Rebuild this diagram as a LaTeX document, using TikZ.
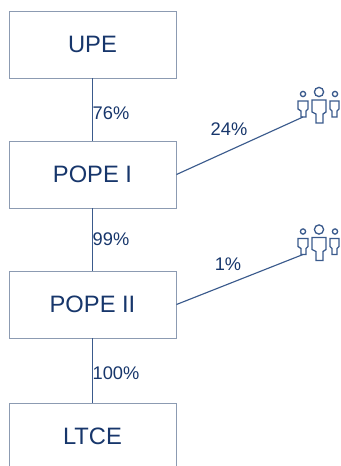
\documentclass[tikz,border=0pt]{standalone}
\usepackage{fontspec}
\setmainfont{Liberation Sans}
\definecolor{navy}{HTML}{17366B}
\definecolor{linkblue}{HTML}{3A5A8C}
\definecolor{boxgrey}{HTML}{8C9BB2}
\tikzset{
  company/.style={draw=boxgrey, fill=white, line width=0.55pt, minimum width=167*0.02cm, minimum height=67*0.02cm, inner sep=0pt, text=navy, font=\fontsize{13.5}{16}\selectfont},
  share/.style={text=navy, inner sep=0pt, font=\fontsize{10.4}{12}\selectfont},
  link/.style={draw=linkblue, line width=0.65pt},
  figure/.style={draw=linkblue, line width=0.75pt, fill=white},
  people/.pic={
    \draw[figure] (5,-23) circle (2.6);
    \draw[figure] (0,-16) -- (10,-16) -- (10,-8) -- (8,-6) -- (8,0) -- (3,0) -- (3,-6) -- (0,-8) -- cycle;
    \draw[figure] (21,-25) circle (4.6);
    \draw[figure] (14,-17) -- (28,-17) -- (28,-5) -- (25,-3) -- (25,6) -- (18,6) -- (18,-3) -- (14,-5) -- cycle;
    \draw[figure] (37,-23) circle (2.6);
    \draw[figure] (32,-16) -- (41,-16) -- (41,-8) -- (39,-6) -- (39,0) -- (34,0) -- (34,-6) -- (32,-8) -- cycle;
    \coordinate (-foot) at (5,0);
  }
}
\begin{document}
\begin{tikzpicture}[x=0.02cm, y=-0.02cm]
\useasboundingbox (0,0) rectangle (341,466);
\clip (0,0) rectangle (341,466);
% companies
\node[company] (upe) at (92.5,44.5) {UPE};
\node[company] (pope1) at (92.5,174.5) {POPE I};
\node[company] (pope2) at (92.5,304.5) {POPE II};
\node[company] (ltce) at (92.5,436.5) {LTCE};
% shareholders
\pic (crowd1) at (298,117) {people};
\pic (crowd2) at (298,254.5) {people};
% links
\draw[link] (upe) -- (pope1);
\draw[link] (pope1) -- (pope2);
\draw[link] (pope2) -- (ltce);
\draw[link] (pope1.east) -- (crowd1-foot);
\draw[link] (pope2.east) -- (crowd2-foot);
% percentages
\node[share] (pct76) at (111,113) {76\%};
\node[share] (pct24) at (229,129) {24\%};
\node[share] (pct99) at (111,239) {99\%};
\node[share] (pct1) at (228,264) {1\%};
\node[share] (pct100) at (116,373) {100\%};
\end{tikzpicture}
\end{document}
